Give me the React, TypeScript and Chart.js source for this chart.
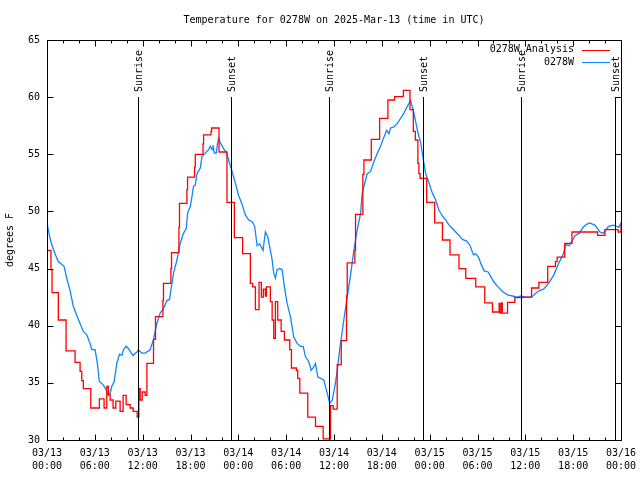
import React, { useEffect, useRef } from "react";
import { Chart, registerables } from "chart.js";

Chart.register(...registerables);

const TITLE = "Temperature for 0278W on 2025-Mar-13 (time in UTC)";
const Y_TITLE = "degrees F";
const X_TICK_DATES = ["03/13", "03/13", "03/13", "03/13", "03/14", "03/14", "03/14", "03/14", "03/15", "03/15", "03/15", "03/15", "03/16"];
const X_TICK_TIMES = ["00:00", "06:00", "12:00", "18:00", "00:00", "06:00", "12:00", "18:00", "00:00", "06:00", "12:00", "18:00", "00:00"];
const X_MIN = 0;
const X_MAX = 72;
const X_STEP = 6;
const X_MINOR = 2;
const Y_MIN = 30;
const Y_MAX = 65;
const Y_STEP = 5;

const SERIES_LABELS = ["0278W_Analysis", "0278W"];
const SERIES_COLORS = ["#ff0000", "#1184ff"];

// hours since 03/13 00:00 UTC
const analysisHours = [0, 0.5, 0.63, 1.42, 2.39, 3.52, 4.15, 4.36, 4.56, 5.49, 6.57, 7.16, 7.5, 7.7, 7.92, 8.29, 8.63, 9.17, 9.55, 9.93, 10.43, 10.81, 11.31, 11.52, 11.69, 11.94, 12.31, 12.53, 13.36, 13.61, 14.54, 14.61, 15.54, 15.62, 16.55, 16.62, 17.55, 17.63, 18.51, 18.6, 19.57, 19.64, 20.57, 20.65, 21.58, 22.58, 23.5, 24.54, 25.51, 25.8, 26.14, 26.6, 26.89, 27.14, 27.39, 27.52, 28.02, 28.24, 28.44, 28.65, 28.94, 29.37, 29.78, 30.45, 30.66, 31.29, 31.45, 31.71, 32.71, 33.68, 34.64, 35.56, 35.9, 36.4, 36.91, 37.57, 37.66, 38.62, 38.7, 39.62, 39.75, 40.68, 41.72, 42.76, 43.6, 44.7, 45.53, 45.95, 46.2, 46.52, 46.65, 46.8, 47.63, 48.63, 49.6, 50.55, 51.68, 52.53, 53.78, 54.91, 55.88, 56.71, 56.83, 57.01, 57.11, 57.77, 58.68, 59.69, 60.78, 61.7, 62.81, 63.78, 63.99, 64.94, 65.85, 69.06, 69.99, 71.63, 72.0];
const analysisTemps = [46.6, 44.9, 42.9, 40.5, 37.8, 36.8, 36.0, 35.2, 34.5, 32.8, 33.6, 32.8, 34.7, 34.0, 33.5, 32.8, 33.4, 32.5, 33.9, 33.1, 32.8, 32.5, 32.0, 34.5, 33.5, 34.2, 33.9, 36.7, 38.8, 40.8, 42.2, 43.7, 45.0, 46.4, 48.6, 50.7, 51.9, 53.0, 53.9, 55.0, 55.9, 56.7, 57.0, 57.3, 55.2, 50.8, 47.7, 46.3, 43.7, 43.4, 41.4, 43.8, 42.5, 43.2, 42.6, 43.4, 42.1, 40.5, 38.9, 42.1, 40.5, 39.5, 38.75, 37.9, 36.3, 36.1, 35.4, 34.1, 32.0, 31.2, 30.1, 33.0, 32.7, 36.6, 38.7, 42.6, 45.5, 46.6, 49.75, 53.25, 54.5, 56.3, 58.15, 59.75, 60.05, 60.6, 58.9, 57.0, 56.25, 54.2, 53.3, 52.9, 50.8, 49.0, 47.5, 46.2, 45.0, 44.15, 43.4, 42.0, 41.2, 41.95, 41.1, 42.0, 41.1, 42.05, 42.45, 42.5, 43.3, 43.8, 45.2, 45.6, 46.0, 47.2, 48.2, 47.9, 48.4, 48.2, 48.85];

const obsHours = [0, 0.16, 0.38, 0.59, 1.01, 1.42, 1.63, 2.14, 2.48, 2.89, 3.3, 3.73, 4.15, 4.56, 4.99, 5.4, 5.62, 6.03, 6.32, 6.57, 6.87, 7.07, 7.41, 7.7, 7.92, 8.13, 8.42, 8.76, 9.09, 9.39, 9.59, 9.93, 10.22, 10.77, 11.27, 11.47, 11.9, 12.31, 12.94, 13.36, 13.78, 14.2, 14.61, 15.04, 15.37, 15.54, 15.87, 16.3, 16.71, 17.13, 17.47, 17.63, 17.76, 17.97, 18.18, 18.38, 18.6, 18.81, 19.23, 19.44, 19.85, 20.27, 20.48, 20.7, 20.82, 20.99, 21.24, 21.4, 21.53, 21.74, 22.15, 22.49, 22.78, 23.21, 23.62, 24.04, 24.47, 24.88, 25.3, 25.72, 26.05, 26.35, 26.68, 27.1, 27.39, 27.68, 28.02, 28.24, 28.44, 28.65, 28.86, 29.19, 29.49, 29.78, 30.12, 30.54, 30.95, 31.38, 31.79, 32.13, 32.42, 32.84, 33.14, 33.46, 33.68, 33.97, 34.31, 34.72, 35.15, 35.47, 35.78, 36.06, 36.4, 36.73, 37.23, 37.66, 38.07, 38.49, 38.92, 39.33, 39.54, 39.75, 40.17, 40.59, 41.0, 41.43, 41.84, 42.26, 42.6, 42.89, 43.1, 43.52, 43.94, 44.36, 44.77, 45.2, 45.61, 46.03, 46.46, 46.87, 47.21, 47.5, 47.92, 48.34, 48.76, 49.17, 49.6, 50.01, 50.43, 50.85, 51.27, 51.68, 52.11, 52.65, 53.07, 53.49, 53.78, 54.12, 54.5, 54.83, 55.33, 55.67, 56.08, 56.58, 57.14, 57.77, 58.39, 58.94, 59.44, 60.07, 60.78, 61.42, 61.85, 62.29, 62.93, 63.57, 64.21, 64.73, 65.07, 65.51, 65.85, 66.27, 66.79, 67.22, 67.64, 68.07, 68.72, 69.36, 69.79, 70.43, 71.07, 71.71, 72.0];
const obsTemps = [49.0, 48.4, 47.65, 47.1, 46.3, 45.6, 45.5, 45.2, 44.15, 43.1, 41.7, 40.9, 40.2, 39.5, 39.2, 38.45, 37.9, 37.9, 36.7, 35.1, 34.95, 34.8, 34.4, 33.9, 34.1, 34.7, 35.1, 36.7, 37.5, 37.4, 37.9, 38.2, 38.0, 37.4, 37.7, 37.9, 37.6, 37.6, 37.9, 38.8, 40.2, 41.1, 41.5, 42.2, 42.3, 43.1, 44.6, 45.75, 47.2, 48.1, 48.5, 49.8, 50.1, 50.4, 51.3, 52.2, 52.3, 53.3, 53.8, 54.8, 55.1, 55.4, 55.7, 55.4, 55.8, 55.1, 55.1, 56.0, 56.4, 56.0, 55.5, 55.2, 54.5, 53.5, 52.5, 51.4, 50.6, 49.7, 49.25, 49.1, 48.7, 47.0, 47.15, 46.6, 48.2, 47.8, 46.6, 45.75, 44.6, 44.15, 44.9, 45.0, 44.9, 43.4, 41.95, 40.8, 39.0, 38.45, 38.2, 38.2, 37.3, 36.85, 36.1, 36.4, 36.7, 35.5, 35.4, 35.25, 34.1, 33.2, 33.5, 34.5, 36.0, 38.0, 40.5, 42.5, 44.4, 46.6, 48.4, 49.8, 51.6, 52.2, 53.3, 53.5, 54.35, 55.1, 55.7, 56.5, 57.1, 56.8, 57.3, 57.4, 57.7, 58.15, 58.6, 59.2, 59.7, 58.6, 57.1, 56.0, 54.5, 53.3, 52.5, 51.6, 51.0, 50.1, 49.6, 49.25, 48.8, 48.5, 48.2, 47.9, 47.55, 47.4, 47.0, 46.2, 46.3, 46.0, 45.3, 44.8, 44.7, 44.3, 43.8, 43.4, 43.0, 42.7, 42.6, 42.5, 42.6, 42.5, 42.5, 42.9, 43.1, 43.2, 43.7, 44.45, 45.5, 46.2, 47.1, 47.0, 47.4, 47.9, 48.1, 48.6, 48.85, 49.0, 48.8, 48.2, 48.1, 48.7, 48.8, 48.6, 49.0];

const eventHours = [11.41, 23.08, 35.37, 47.16, 59.46, 71.25];
const eventLabels = ["Sunrise", "Sunset", "Sunrise", "Sunset", "Sunrise", "Sunset"];
const EVENT_TOP = 60;

const FONT_FAMILY = "'DejaVu Sans Mono', monospace";
const FONT = "10px " + FONT_FAMILY;

const gnuplotPlugin = {
  id: "gnuplotDecor",
  afterDatasetsDraw(chart: any) {
    const { ctx, chartArea: a, scales } = chart;
    const x = scales.x;
    const y = scales.y;
    ctx.save();
    ctx.strokeStyle = "#000";
    ctx.fillStyle = "#000";
    ctx.lineWidth = 1;
    const seg = (x1: number, y1: number, x2: number, y2: number) => {
      ctx.beginPath();
      ctx.moveTo(x1, y1);
      ctx.lineTo(x2, y2);
      ctx.stroke();
    };
    const L = Math.round(a.left) + 0.5;
    const R = Math.round(a.right) + 0.5;
    const T = Math.round(a.top) + 0.5;
    const B = Math.round(a.bottom) + 0.5;

    // event lines
    ctx.font = FONT;
    eventHours.forEach((h, i) => {
      const px = Math.round(x.getPixelForValue(h)) + 0.5;
      const top = Math.round(y.getPixelForValue(EVENT_TOP));
      seg(px, B, px, top);
      ctx.save();
      ctx.translate(px + 1, top - 5);
      ctx.rotate(-Math.PI / 2);
      ctx.textAlign = "left";
      ctx.textBaseline = "middle";
      ctx.fillText(eventLabels[i], 0, 0);
      ctx.restore();
    });

    // border
    ctx.strokeRect(L, T, R - L, B - T);

    // x ticks (inward, mirrored)
    for (let v = X_MIN; v <= X_MAX; v += X_MINOR) {
      const px = Math.round(x.getPixelForValue(v)) + 0.5;
      const len = v % X_STEP === 0 ? 6 : 3;
      seg(px, B, px, B - len);
      seg(px, T, px, T + len);
    }
    // y ticks
    for (let v = Y_MIN; v <= Y_MAX; v += Y_STEP) {
      const py = Math.round(y.getPixelForValue(v)) + 0.5;
      seg(L, py, L + 6, py);
      seg(R, py, R - 6, py);
    }

    // title
    ctx.font = FONT;
    ctx.textAlign = "center";
    ctx.textBaseline = "middle";
    ctx.fillText(TITLE, (a.left + a.right) / 2, 20);

    // legend
    const rows = [a.top + 9.5, a.top + 22];
    chart.data.datasets.forEach((ds: any, i: number) => {
      const ry = rows[i];
      ctx.textAlign = "right";
      ctx.fillStyle = "#000";
      ctx.fillText(ds.label, a.right - 47, ry);
      ctx.strokeStyle = ds.borderColor;
      seg(a.right - 39, Math.round(ry) + 0.5, a.right - 11, Math.round(ry) + 0.5);
    });
    ctx.restore();
  },
};

export default function App() {
  const canvasRef = useRef<HTMLCanvasElement | null>(null);

  useEffect(() => {
    const canvas = canvasRef.current;
    if (!canvas) return;
    const tickFont = { family: FONT_FAMILY, size: 10, lineHeight: 1.3 };
    const chart = new Chart(canvas, {
      type: "line",
      data: {
        datasets: [
          {
            label: SERIES_LABELS[0],
            data: analysisHours.map((h, i) => ({ x: h, y: analysisTemps[i] })),
            borderColor: SERIES_COLORS[0],
            backgroundColor: SERIES_COLORS[0],
            borderWidth: 1.3,
            pointRadius: 0,
            stepped: "before",
            fill: false,
          },
          {
            label: SERIES_LABELS[1],
            data: obsHours.map((h, i) => ({ x: h, y: obsTemps[i] })),
            borderColor: SERIES_COLORS[1],
            backgroundColor: SERIES_COLORS[1],
            borderWidth: 1.3,
            pointRadius: 0,
            tension: 0,
            fill: false,
          },
        ],
      },
      options: {
        animation: false,
        responsive: false,
        maintainAspectRatio: false,
        layout: { padding: { top: 40, right: 19, left: 0, bottom: 0 } },
        plugins: {
          legend: { display: false },
          tooltip: { enabled: false },
          title: { display: false },
        },
        scales: {
          x: {
            type: "linear",
            min: X_MIN,
            max: X_MAX,
            afterFit: (s: any) => {
              s.height = 40;
              s.paddingLeft = 0;
              s.paddingRight = 0;
            },
            grid: { display: false, drawTicks: false },
            border: { display: false },
            ticks: {
              stepSize: X_STEP,
              autoSkip: false,
              maxRotation: 0,
              minRotation: 0,
              padding: 7,
              color: "#000",
              font: tickFont,
              callback: (v: any) => {
                const idx = Math.round((Number(v) - X_MIN) / X_STEP);
                return [X_TICK_DATES[idx], X_TICK_TIMES[idx]];
              },
            },
          },
          y: {
            type: "linear",
            min: Y_MIN,
            max: Y_MAX,
            afterFit: (s: any) => {
              s.width = 47;
              s.paddingTop = 0;
              s.paddingBottom = 0;
            },
            grid: { display: false, drawTicks: false },
            border: { display: false },
            ticks: {
              stepSize: Y_STEP,
              padding: 7,
              color: "#000",
              font: tickFont,
            },
            title: {
              display: true,
              text: Y_TITLE,
              color: "#000",
              font: tickFont,
              padding: { top: 4, bottom: 0 },
            },
          },
        },
      },
      plugins: [gnuplotPlugin],
    } as any);
    return () => chart.destroy();
  }, []);

  return (
    <div style={{ position: "absolute", left: 0, top: 0, width: 640, height: 480, background: "#fff" }}>
      <canvas ref={canvasRef} width={640} height={480} style={{ display: "block" }} />
    </div>
  );
}
